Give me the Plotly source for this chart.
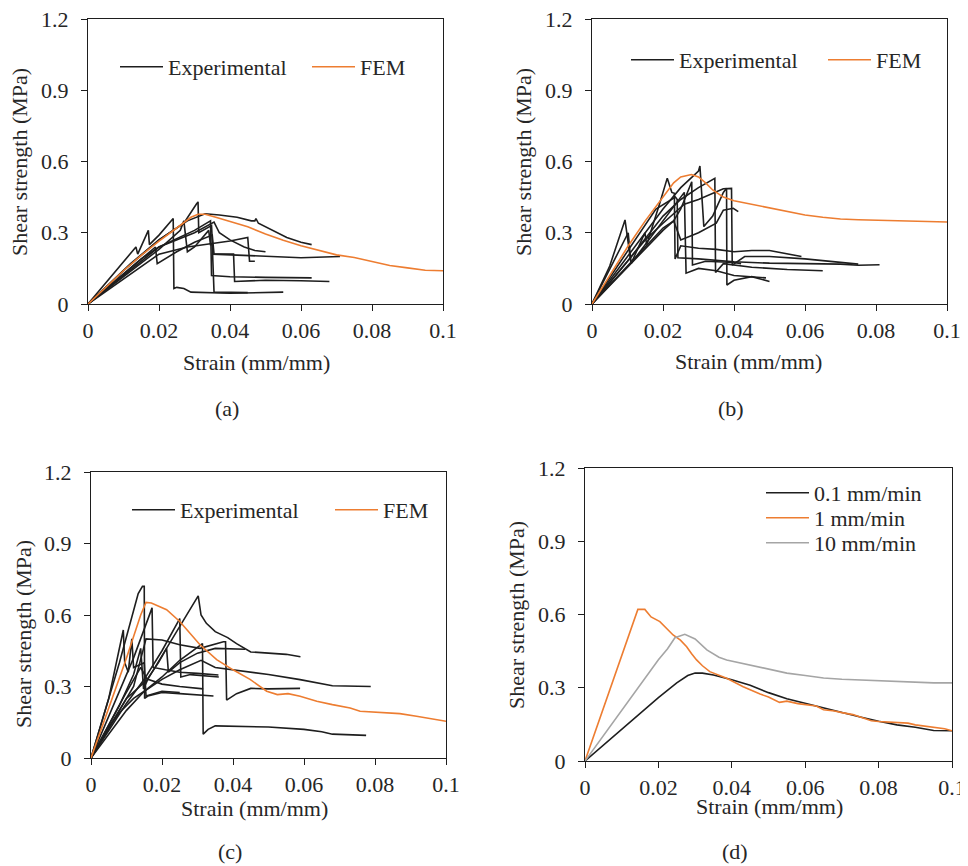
import plotly.graph_objects as go

# ---------------- data ----------------
x_ticks = [0, 0.02, 0.04, 0.06, 0.08, 0.1]
x_ticktext = ["0", "0.02", "0.04", "0.06", "0.08", "0.1"]
y_ticks = [0, 0.3, 0.6, 0.9, 1.2]
y_ticktext = ["0", "0.3", "0.6", "0.9", "1.2"]

# Panel (a)
a_exp_strain = [
    [0, 0.01, 0.02, 0.028, 0.033, 0.037, 0.042, 0.046, 0.047, 0.0473, 0.048, 0.052, 0.056, 0.06, 0.063],
    [0, 0.012, 0.02, 0.027, 0.0305, 0.031, 0.0312, 0.033, 0.0348, 0.0352, 0.045, 0.06, 0.071],
    [0, 0.01, 0.02, 0.03, 0.0345, 0.0348, 0.04, 0.05, 0.063],
    [0, 0.0135, 0.014, 0.017, 0.0173, 0.02, 0.024, 0.0242, 0.025, 0.027, 0.029, 0.04, 0.055],
    [0, 0.015, 0.02, 0.025, 0.03, 0.0355, 0.037, 0.04, 0.044, 0.047, 0.05],
    [0, 0.019, 0.0195, 0.025, 0.03, 0.035, 0.0355, 0.041, 0.0413, 0.05, 0.06, 0.068],
    [0, 0.02, 0.028, 0.035, 0.04, 0.045, 0.0455, 0.047],
    [0, 0.02, 0.026, 0.027, 0.028, 0.03, 0.034, 0.0345, 0.035, 0.0355, 0.045],
]
a_exp_stress = [
    [0, 0.14, 0.27, 0.35, 0.38, 0.375, 0.365, 0.35, 0.35, 0.36, 0.34, 0.31, 0.28, 0.26, 0.25],
    [0, 0.17, 0.27, 0.34, 0.42, 0.43, 0.30, 0.315, 0.33, 0.21, 0.205, 0.195, 0.20],
    [0, 0.12, 0.24, 0.31, 0.35, 0.12, 0.115, 0.112, 0.11],
    [0, 0.24, 0.21, 0.31, 0.25, 0.29, 0.36, 0.065, 0.07, 0.065, 0.05, 0.045, 0.05],
    [0, 0.19, 0.24, 0.27, 0.30, 0.345, 0.30, 0.27, 0.24, 0.225, 0.22],
    [0, 0.24, 0.17, 0.22, 0.26, 0.29, 0.21, 0.21, 0.095, 0.1, 0.098, 0.095],
    [0, 0.21, 0.24, 0.255, 0.265, 0.28, 0.18, 0.18],
    [0, 0.23, 0.31, 0.35, 0.22, 0.24, 0.31, 0.25, 0.25, 0.05, 0.048],
]
a_fem_strain = [0, 0.005, 0.01, 0.015, 0.02, 0.025, 0.029, 0.031, 0.033, 0.036, 0.04, 0.045, 0.05,
                0.055, 0.06, 0.065, 0.07, 0.075, 0.08, 0.085, 0.09, 0.095, 0.1]
a_fem_stress = [0, 0.07, 0.14, 0.205, 0.265, 0.32, 0.365, 0.378, 0.378, 0.365, 0.348, 0.325, 0.295,
                0.268, 0.245, 0.225, 0.207, 0.196, 0.18, 0.162, 0.152, 0.142, 0.14]

# Panel (b)
b_exp_strain = [
    [0, 0.005, 0.0093, 0.011, 0.0149, 0.0154, 0.019, 0.0212, 0.0225, 0.0232, 0.0234, 0.025, 0.03, 0.035, 0.04, 0.045, 0.05, 0.055, 0.059],
    [0, 0.01, 0.018, 0.0235, 0.024, 0.0242, 0.03, 0.04, 0.05, 0.06, 0.07, 0.075, 0.081],
    [0, 0.01, 0.02, 0.025, 0.03, 0.0304, 0.0315, 0.034, 0.037, 0.0379, 0.038, 0.04, 0.045, 0.05],
    [0, 0.01, 0.02, 0.025, 0.03, 0.0346, 0.0348, 0.037, 0.045, 0.055, 0.065],
    [0, 0.0095, 0.0102, 0.011, 0.015, 0.02, 0.026, 0.0265, 0.03, 0.035, 0.04, 0.049],
    [0, 0.015, 0.02, 0.023, 0.025, 0.0281, 0.0283, 0.032, 0.04, 0.042],
    [0, 0.015, 0.02, 0.026, 0.03, 0.033, 0.037, 0.0393, 0.0395, 0.043, 0.05, 0.06, 0.07, 0.075],
    [0, 0.02, 0.023, 0.025, 0.03, 0.035, 0.037, 0.0398, 0.0412],
]
b_exp_stress = [
    [0, 0.16, 0.354, 0.17, 0.30, 0.25, 0.42, 0.53, 0.47, 0.466, 0.19, 0.245, 0.235, 0.23, 0.22, 0.225, 0.225, 0.21, 0.20],
    [0, 0.22, 0.40, 0.45, 0.44, 0.195, 0.19, 0.178, 0.172, 0.17, 0.168, 0.163, 0.165],
    [0, 0.20, 0.40, 0.49, 0.56, 0.581, 0.326, 0.37, 0.47, 0.487, 0.08, 0.1, 0.115, 0.095],
    [0, 0.18, 0.37, 0.44, 0.49, 0.529, 0.133, 0.17, 0.155, 0.145, 0.14],
    [0, 0.28, 0.30, 0.17, 0.25, 0.35, 0.47, 0.13, 0.15, 0.14, 0.12, 0.11],
    [0, 0.24, 0.32, 0.35, 0.40, 0.515, 0.164, 0.18, 0.175, 0.17],
    [0, 0.27, 0.34, 0.42, 0.44, 0.46, 0.485, 0.487, 0.164, 0.2, 0.2, 0.19, 0.175, 0.168],
    [0, 0.31, 0.35, 0.27, 0.30, 0.34, 0.395, 0.403, 0.389],
]
b_fem_strain = [0, 0.005, 0.01, 0.015, 0.02, 0.023, 0.025, 0.028, 0.03, 0.032, 0.034, 0.037, 0.04,
                0.045, 0.05, 0.055, 0.06, 0.065, 0.07, 0.075, 0.08, 0.085, 0.09, 0.095, 0.1]
b_fem_stress = [0, 0.12, 0.24, 0.35, 0.45, 0.51, 0.535, 0.545, 0.535, 0.51, 0.48, 0.45, 0.435,
                0.42, 0.405, 0.39, 0.375, 0.365, 0.358, 0.355, 0.353, 0.352, 0.35, 0.345, 0.345]

# Panel (c)
c_exp_strain = [
    [0, 0.008, 0.0133, 0.0145, 0.015, 0.0151, 0.016, 0.02, 0.025, 0.03, 0.0345],
    [0, 0.01, 0.016, 0.02, 0.025, 0.0302, 0.031, 0.0325, 0.035, 0.0385, 0.041, 0.0435, 0.045, 0.05, 0.055, 0.059],
    [0, 0.005, 0.008, 0.01, 0.012, 0.015, 0.02, 0.025, 0.0314, 0.0316, 0.033, 0.035, 0.05, 0.06, 0.065, 0.068, 0.0775],
    [0, 0.012, 0.0155, 0.02, 0.025, 0.0307, 0.0373, 0.0379, 0.0382, 0.041, 0.045, 0.05, 0.0589],
    [0, 0.01, 0.015, 0.02, 0.025, 0.0295, 0.031, 0.035, 0.0401, 0.045, 0.05, 0.0589, 0.068, 0.0788],
    [0, 0.008, 0.012, 0.0172, 0.0175, 0.021, 0.025, 0.03, 0.0359],
    [0, 0.01, 0.015, 0.02, 0.025, 0.0253, 0.028, 0.032, 0.036],
    [0, 0.008, 0.012, 0.014, 0.0148, 0.016, 0.02, 0.025, 0.0316],
    [0, 0.009, 0.014, 0.0158, 0.019, 0.0213, 0.0218, 0.025, 0.03, 0.035, 0.0434],
    [0, 0.005, 0.0091, 0.0095, 0.0105, 0.0115, 0.012, 0.015, 0.0155, 0.02, 0.025],
]
c_exp_stress = [
    [0, 0.40, 0.69, 0.72, 0.72, 0.25, 0.26, 0.275, 0.27, 0.265, 0.26],
    [0, 0.25, 0.33, 0.43, 0.55, 0.68, 0.60, 0.565, 0.53, 0.505, 0.48, 0.46, 0.445, 0.44, 0.435, 0.425],
    [0, 0.13, 0.19, 0.22, 0.25, 0.28, 0.34, 0.41, 0.48, 0.10, 0.12, 0.135, 0.13, 0.12, 0.11, 0.10, 0.095],
    [0, 0.30, 0.50, 0.495, 0.475, 0.46, 0.488, 0.488, 0.243, 0.27, 0.292, 0.29, 0.292],
    [0, 0.20, 0.28, 0.33, 0.37, 0.40, 0.41, 0.38, 0.37, 0.36, 0.35, 0.329, 0.303, 0.30],
    [0, 0.28, 0.42, 0.63, 0.38, 0.37, 0.36, 0.355, 0.348],
    [0, 0.23, 0.33, 0.45, 0.585, 0.34, 0.35, 0.345, 0.34],
    [0, 0.22, 0.35, 0.46, 0.29, 0.33, 0.31, 0.30, 0.29],
    [0, 0.25, 0.38, 0.33, 0.40, 0.46, 0.36, 0.40, 0.44, 0.46, 0.456],
    [0, 0.25, 0.537, 0.40, 0.36, 0.50, 0.38, 0.40, 0.26, 0.28, 0.275],
]
c_fem_strain = [0, 0.005, 0.01, 0.014, 0.0155, 0.017, 0.0195, 0.0213, 0.025, 0.0288, 0.0307, 0.0354,
                0.04, 0.0448, 0.0495, 0.0525, 0.0555, 0.0589, 0.0636, 0.068, 0.073, 0.0758, 0.082,
                0.087, 0.0917, 0.096, 0.1]
c_fem_stress = [0, 0.21, 0.42, 0.60, 0.653, 0.65, 0.635, 0.622, 0.573, 0.51, 0.475, 0.413,
                0.37, 0.33, 0.28, 0.266, 0.27, 0.259, 0.238, 0.224, 0.21, 0.196, 0.189,
                0.186, 0.175, 0.165, 0.154]

# Panel (d)
d_names = ["0.1 mm/min", "1 mm/min", "10 mm/min"]
d_strain_01 = [0, 0.005, 0.01, 0.015, 0.02, 0.025, 0.028, 0.03, 0.032, 0.035, 0.04, 0.045, 0.05,
               0.055, 0.06, 0.065, 0.07, 0.075, 0.08, 0.085, 0.09, 0.095, 0.1]
d_stress_01 = [0, 0.065, 0.13, 0.195, 0.26, 0.32, 0.35, 0.36, 0.36, 0.352, 0.333, 0.31, 0.28,
               0.255, 0.236, 0.218, 0.197, 0.18, 0.163, 0.148, 0.138, 0.125, 0.124]
d_strain_1 = [0, 0.005, 0.01, 0.0144, 0.0163, 0.018, 0.0204, 0.022, 0.024, 0.026, 0.0277, 0.029,
              0.0304, 0.032, 0.034, 0.0386, 0.0431, 0.0477, 0.05, 0.053, 0.055, 0.058, 0.06, 0.063,
              0.065, 0.068, 0.07, 0.073, 0.075, 0.078, 0.08, 0.083, 0.085, 0.088, 0.09, 0.093,
              0.095, 0.098, 0.1]
d_stress_1 = [0, 0.215, 0.43, 0.621, 0.621, 0.59, 0.571, 0.545, 0.516, 0.495, 0.468, 0.44,
              0.414, 0.39, 0.366, 0.339, 0.304, 0.274, 0.262, 0.24, 0.245, 0.235, 0.232, 0.225,
              0.21, 0.205, 0.198, 0.19, 0.18, 0.165, 0.162, 0.16, 0.158, 0.155, 0.148, 0.143,
              0.14, 0.132, 0.124]
d_strain_10 = [0, 0.005, 0.01, 0.015, 0.02, 0.0225, 0.0245, 0.0272, 0.03, 0.0332, 0.0365, 0.0386,
               0.0477, 0.055, 0.06, 0.065, 0.07, 0.075, 0.08, 0.085, 0.09, 0.095, 0.1]
d_stress_10 = [0, 0.105, 0.21, 0.315, 0.415, 0.46, 0.505, 0.519, 0.50, 0.455, 0.425, 0.414,
               0.385, 0.36, 0.35, 0.34, 0.335, 0.332, 0.33, 0.328, 0.325, 0.32, 0.32]

# ---------------- styling ----------------
FONT = "Liberation Serif"
TXT = "#262626"
BLACK = "#1e1e1e"
ORANGE = "#ED7D31"
GREY = "#A5A5A5"
OFF = 8            # page body margin
W, H = 960, 858    # figure size (page is 968 x 866)
ITEMW = 43         # legend sample width

def px_x(p):       # page pixel -> paper fraction
    return (p - OFF) / W

def px_y(p):
    return 1 - (p - OFF) / H

# plot areas in page pixels: (left, right, top, bottom)
areas = {
    "a": (88, 443, 19, 304),
    "b": (592, 947, 19, 304),
    "c": (91, 446, 472, 758),
    "d": (585, 952, 468, 761),
}

fig = go.Figure()

def add_exp(strains, stresses, xa, ya, leg):
    for i, (xs, ys) in enumerate(zip(strains, stresses)):
        fig.add_trace(go.Scatter(
            x=xs, y=ys, mode="lines", name="Experimental",
            line=dict(color=BLACK, width=1.6),
            xaxis=xa, yaxis=ya, legend=leg, legendgroup=leg + "exp",
            showlegend=(i == 0)))

def add_fem(xs, ys, xa, ya, leg):
    fig.add_trace(go.Scatter(
        x=xs, y=ys, mode="lines", name="FEM",
        line=dict(color=ORANGE, width=1.6),
        xaxis=xa, yaxis=ya, legend=leg))

add_exp(a_exp_strain, a_exp_stress, "x", "y", "legend")
add_fem(a_fem_strain, a_fem_stress, "x", "y", "legend2")
add_exp(b_exp_strain, b_exp_stress, "x2", "y2", "legend3")
add_fem(b_fem_strain, b_fem_stress, "x2", "y2", "legend4")
add_exp(c_exp_strain, c_exp_stress, "x3", "y3", "legend5")
add_fem(c_fem_strain, c_fem_stress, "x3", "y3", "legend6")

for name, xs, ys, col, leg in zip(d_names,
                                  [d_strain_01, d_strain_1, d_strain_10],
                                  [d_stress_01, d_stress_1, d_stress_10],
                                  [BLACK, ORANGE, GREY],
                                  ["legend7", "legend8", "legend9"]):
    fig.add_trace(go.Scatter(x=xs, y=ys, mode="lines", name=name,
                             line=dict(color=col, width=1.6),
                             xaxis="x4", yaxis="y4", legend=leg))

axis_common = dict(
    showline=True, linecolor=BLACK, linewidth=1.4, mirror=True,
    ticks="outside", ticklen=6, tickwidth=1.4, tickcolor=BLACK,
    showgrid=False, zeroline=False,
    tickfont=dict(family=FONT, size=22, color=TXT),
    ticklabeloverflow="allow",
    automargin=False,
)

layout = dict(
    width=W, height=H,
    margin=dict(l=0, r=0, t=0, b=0),
    paper_bgcolor="white", plot_bgcolor="white",
    font=dict(family=FONT, size=22, color=TXT),
)

for i, key in enumerate(["a", "b", "c", "d"]):
    l, r, t, b = areas[key]
    sfx = "" if i == 0 else str(i + 1)
    layout["xaxis" + sfx] = dict(
        axis_common, domain=[px_x(l), px_x(r)], range=[0, 0.1],
        tickvals=x_ticks, ticktext=x_ticktext, ticklabelstandoff=0,
        anchor="y" + sfx)
    layout["yaxis" + sfx] = dict(
        axis_common, domain=[px_y(b), px_y(t)], range=[0, 1.2],
        tickvals=y_ticks, ticktext=y_ticktext, ticklabelstandoff=8,
        anchor="x" + sfx)

leg_common = dict(bgcolor="rgba(0,0,0,0)", borderwidth=0, orientation="v",
                  itemwidth=ITEMW,
                  font=dict(family=FONT, size=22, color=TXT),
                  xanchor="left", yanchor="middle")
# legend rows: (page x where the label text starts, page y of row centre)
legend_pos = {
    "legend": (168, 67), "legend2": (360, 67),
    "legend3": (679, 60), "legend4": (876, 60),
    "legend5": (180, 510), "legend6": (383, 510),
    "legend7": (814, 493), "legend8": (814, 518), "legend9": (814, 543),
}
for key, (tx, ly) in legend_pos.items():
    layout[key] = dict(leg_common, x=px_x(tx - ITEMW - 10), y=px_y(ly))

annotations = []
def ann(text, x, y, angle=0):
    annotations.append(dict(text=text, x=px_x(x), y=px_y(y), xref="paper", yref="paper",
                            showarrow=False, xanchor="center", yanchor="middle",
                            textangle=angle,
                            font=dict(family=FONT, size=22, color=TXT)))

ann("Strain (mm/mm)", 256, 362)
ann("Strain (mm/mm)", 748, 361)
ann("Strain (mm/mm)", 255, 808)
ann("Strain (mm/mm)", 769, 806)
ann("Shear strength (MPa)", 19, 162, -90)
ann("Shear strength (MPa)", 523, 162, -90)
ann("Shear strength (MPa)", 23, 634, -90)
ann("Shear strength (MPa)", 516, 615, -90)
ann("(a)", 227, 408)
ann("(b)", 731, 408)
ann("(c)", 230, 851)
ann("(d)", 735, 851)
layout["annotations"] = annotations

fig.update_layout(**layout)
fig.write_html("out.html")
